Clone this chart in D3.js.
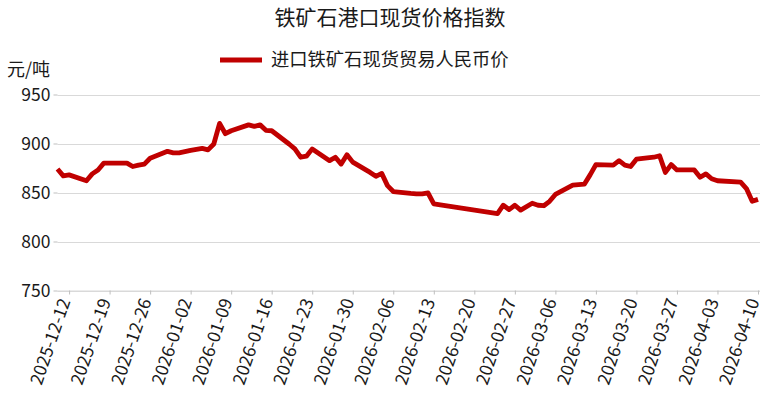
<!DOCTYPE html>
<html>
<head>
<meta charset="utf-8">
<script src="https://cdn.jsdelivr.net/npm/d3@7"></script>
<style>
  html, body { margin: 0; padding: 0; background: #fff; }
  svg { display: block; }
  text { font-family: "Noto Sans CJK SC", "Noto Sans", sans-serif; fill: #1a1a1a; }
</style>
</head>
<body>
<svg id="chart" width="777" height="398"></svg>
<script>
const title = "铁矿石港口现货价格指数";
const seriesName = "进口铁矿石现货贸易人民币价";
const unitLabel = "元/吨";

const dates = [
  "2025-12-10","2025-12-11","2025-12-12","2025-12-15","2025-12-16","2025-12-17","2025-12-18","2025-12-19",
  "2025-12-22","2025-12-23","2025-12-24","2025-12-25","2025-12-26","2025-12-29","2025-12-30","2025-12-31",
  "2026-01-02","2026-01-04","2026-01-05","2026-01-06","2026-01-07","2026-01-08","2026-01-09",
  "2026-01-12","2026-01-13","2026-01-14","2026-01-15","2026-01-16",
  "2026-01-19","2026-01-20","2026-01-21","2026-01-22","2026-01-23",
  "2026-01-26","2026-01-27","2026-01-28","2026-01-29","2026-01-30",
  "2026-02-02","2026-02-03","2026-02-04","2026-02-05","2026-02-06",
  "2026-02-09","2026-02-10","2026-02-11","2026-02-12","2026-02-13",
  "2026-02-24","2026-02-25","2026-02-26","2026-02-27","2026-02-28",
  "2026-03-02","2026-03-03","2026-03-04","2026-03-05","2026-03-06",
  "2026-03-09","2026-03-10","2026-03-11","2026-03-12","2026-03-13",
  "2026-03-16","2026-03-17","2026-03-18","2026-03-19","2026-03-20",
  "2026-03-23","2026-03-24","2026-03-25","2026-03-26","2026-03-27",
  "2026-03-30","2026-03-31","2026-04-01","2026-04-02","2026-04-03",
  "2026-04-07","2026-04-08","2026-04-09","2026-04-10"
];
const values = [
  874,867,868,862,869,873,880,880,
  880,876.5,878,879,885,892,890.5,890.5,
  893,895,893.5,899.5,920.5,910,913,
  919,917.5,919,913.5,913,
  899.5,894.5,886,887,894.5,
  882.5,886,879,888.5,881,
  870.5,866.5,869.5,857,851,
  849,848.5,848.5,849.5,838.5,
  828.5,837,832.5,837,832,
  839,837,836.5,841,848,
  857.5,858,858.5,868,878.5,
  878,882.5,878,876.5,884,
  886,887.5,870.5,878.5,873,
  873,865.5,869,864,862,
  860.5,854,841,843
];
const xTickLabels = [
  "2025-12-12","2025-12-19","2025-12-26","2026-01-02","2026-01-09","2026-01-16","2026-01-23",
  "2026-01-30","2026-02-06","2026-02-13","2026-02-20","2026-02-27","2026-03-06","2026-03-13",
  "2026-03-20","2026-03-27","2026-04-03","2026-04-10"
];
const yTicks = [750, 800, 850, 900, 950];

const parse = d3.timeParse("%Y-%m-%d");
const data = dates.map((d, i) => ({ date: parse(d), value: values[i] }));

const svg = d3.select("#chart");
const mLeft = 57.5, mRight = 758, mTop = 94.5, mBottom = 290.5;

const x = d3.scaleTime()
  .domain([parse("2025-12-10"), parse("2026-04-10")])
  .range([mLeft, mRight]);
const y = d3.scaleLinear().domain([750, 950]).range([mBottom, mTop]);

// gridlines
svg.append("g").selectAll("line").data(yTicks).join("line")
  .attr("x1", mLeft).attr("x2", mRight + 2)
  .attr("y1", d => Math.round(y(d)) + 0.5).attr("y2", d => Math.round(y(d)) + 0.5)
  .attr("stroke", "#d9d9d9").attr("stroke-width", 1);

// y axis
const yAxis = d3.axisLeft(y).tickValues(yTicks).tickSize(4).tickPadding(3);
const yg = svg.append("g").attr("transform", `translate(${mLeft},0)`).call(yAxis);
yg.select(".domain").remove();
yg.selectAll(".tick line").attr("stroke", "#bfbfbf");
yg.selectAll(".tick text")
  .attr("font-size", 17.5)
  .attr("font-family", '"Noto Sans CJK SC", "Noto Sans", sans-serif')
  .attr("fill", "#1a1a1a");

// x axis
const xTickDates = xTickLabels.map(parse);
const xAxis = d3.axisBottom(x).tickValues(xTickDates).tickSize(4).tickFormat(d3.timeFormat("%Y-%m-%d"));
const xg = svg.append("g").attr("transform", `translate(0,${mBottom})`).call(xAxis);
xg.select(".domain").attr("stroke", "#d9d9d9").attr("d", `M${mLeft},0.5H${mRight + 2}`);
xg.selectAll(".tick line").attr("stroke", "#bfbfbf");
xg.selectAll(".tick text")
  .attr("font-size", 17.5)
  .attr("font-family", '"Noto Sans CJK SC", "Noto Sans", sans-serif')
  .attr("fill", "#1a1a1a")
  .attr("text-anchor", "end")
  .attr("y", 0).attr("dy", 0)
  .attr("transform", "translate(-6,8) rotate(-71)")
  .attr("dominant-baseline", "central");

// line
const line = d3.line().x(d => x(d.date)).y(d => y(d.value));
svg.append("path").datum(data)
  .attr("d", line)
  .attr("fill", "none")
  .attr("stroke", "#c00000")
  .attr("stroke-width", 4.8)
  .attr("stroke-linejoin", "round")
  .attr("stroke-linecap", "butt");

// title
svg.append("text").attr("x", 390).attr("y", 25).attr("text-anchor", "middle")
  .attr("font-size", 21).text(title);

// legend
svg.append("line").attr("x1", 220).attr("x2", 262).attr("y1", 60).attr("y2", 60)
  .attr("stroke", "#c00000").attr("stroke-width", 5);
svg.append("text").attr("x", 271).attr("y", 66).attr("font-size", 18.3).text(seriesName);

// unit
svg.append("text").attr("x", 7).attr("y", 76).attr("font-size", 18).text(unitLabel);
</script>
</body>
</html>
